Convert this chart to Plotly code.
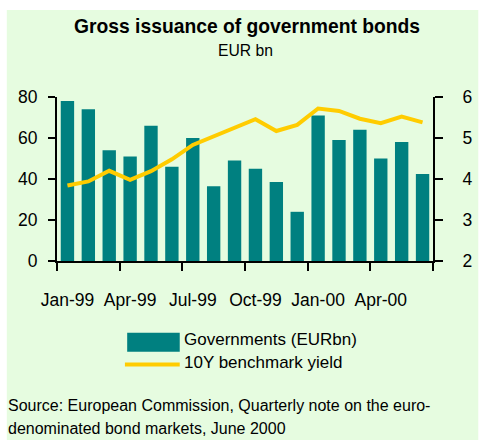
import plotly.graph_objects as go

months = ["Jan-99", "Feb-99", "Mar-99", "Apr-99", "May-99", "Jun-99", "Jul-99", "Aug-99", "Sep-99",
          "Oct-99", "Nov-99", "Dec-99", "Jan-00", "Feb-00", "Mar-00", "Apr-00", "May-00", "Jun-00"]
governments = [78, 74, 54, 51, 66, 46, 60, 36.5, 49, 45, 38.5, 24, 71, 59, 64, 50, 58, 42.5]
yield_10y = [3.84, 3.94, 4.2, 3.98, 4.19, 4.48, 4.83, 5.04, 5.24, 5.46, 5.17, 5.32, 5.72, 5.66, 5.47, 5.36, 5.52, 5.38]
tick_labels = ["Jan-99", "Apr-99", "Jul-99", "Oct-99", "Jan-00", "Apr-00"]

W, H = 485, 444
L, R, T, B = 57, 439, 97, 261
FONT = "Liberation Sans, Arial, sans-serif"
BG = "#E6FCE0"
TEAL = "#008080"
GOLD = "#FFCC00"

def px(x):
    return (x - L) / (R - L)

def py(y):
    return (B - y) / (B - T)

xs = list(range(len(months)))
tick_idx = [months.index(m) for m in tick_labels]

fig = go.Figure()
fig.add_trace(go.Bar(x=xs, y=governments, name="Governments (EURbn)", marker_color=TEAL,
                     marker_line_width=0, showlegend=False, hovertext=months))
fig.add_trace(go.Scatter(x=xs, y=yield_10y, name="10Y benchmark yield", yaxis="y2", mode="lines",
                         line=dict(color=GOLD, width=4), showlegend=False, hovertext=months))

shapes = [
    dict(type="rect", xref="paper", yref="paper", x0=px(6), x1=px(485), y0=py(440), y1=py(10),
         fillcolor=BG, line_width=0, layer="below"),
    dict(type="rect", xref="paper", yref="paper", x0=px(128.3), x1=px(181.7), y0=py(351.7), y1=py(332.7),
         fillcolor=TEAL, line_width=0),
    dict(type="line", xref="paper", yref="paper", x0=px(126), x1=px(181.7), y0=py(364.5), y1=py(364.5),
         line=dict(color=GOLD, width=4)),
]

def ann(text, x, y, size, xanchor="center", bold=False):
    return dict(text=f"<b>{text}</b>" if bold else text, xref="paper", yref="paper", x=px(x), y=py(y),
                xanchor=xanchor, yanchor="middle", showarrow=False,
                font=dict(family=FONT, size=size, color="black"))

annotations = [
    ann("Gross issuance of government bonds", 250, 26, 19.3, bold=True),
    ann("EUR bn", 249, 51, 15.7),
    ann("Governments (EURbn)", 184, 339, 17, xanchor="left"),
    ann("10Y benchmark yield", 184, 362, 17, xanchor="left"),
    ann("Source: European Commission, Quarterly note on the euro-", 5, 405, 16, xanchor="left"),
    ann("denominated bond markets, June 2000", 5, 428, 16, xanchor="left"),
]

fig.update_layout(
    width=W, height=H,
    margin=dict(l=L, r=W - R, t=T, b=H - B, pad=0),
    paper_bgcolor="white", plot_bgcolor="rgba(0,0,0,0)",
    bargap=0.36,
    font=dict(family=FONT, size=17, color="black"),
    shapes=shapes, annotations=annotations,
    xaxis=dict(range=[-0.5, len(months) - 0.5], tickmode="array", tickvals=tick_idx, ticktext=tick_labels,
               ticks="outside", ticklen=22, tickcolor="rgba(0,0,0,0)", showline=True, linecolor="black",
               linewidth=2, showgrid=False, zeroline=False, tickfont=dict(size=17.5),
               minor=dict(tickmode="array", tickvals=[i - 0.5 for i in range(0, len(months) + 1, 3)],
                          ticks="outside", ticklen=8, tickwidth=2, tickcolor="black", showgrid=False)),
    yaxis=dict(range=[0, 80], tickvals=[0, 20, 40, 60, 80], ticks="outside", ticklen=7, tickwidth=2,
               tickcolor="black", showline=True, linecolor="black", linewidth=2, showgrid=False,
               zeroline=False, ticklabelstandoff=7, tickfont=dict(size=17.5)),
    yaxis2=dict(range=[2, 6], tickvals=[2, 3, 4, 5, 6], overlaying="y", side="right", ticks="outside",
                ticklen=8, tickwidth=2, tickcolor="black", showline=True, linecolor="black", linewidth=2,
                showgrid=False, zeroline=False, ticklabelstandoff=16, tickfont=dict(size=17.5)),
)

fig.write_html("out.html")
